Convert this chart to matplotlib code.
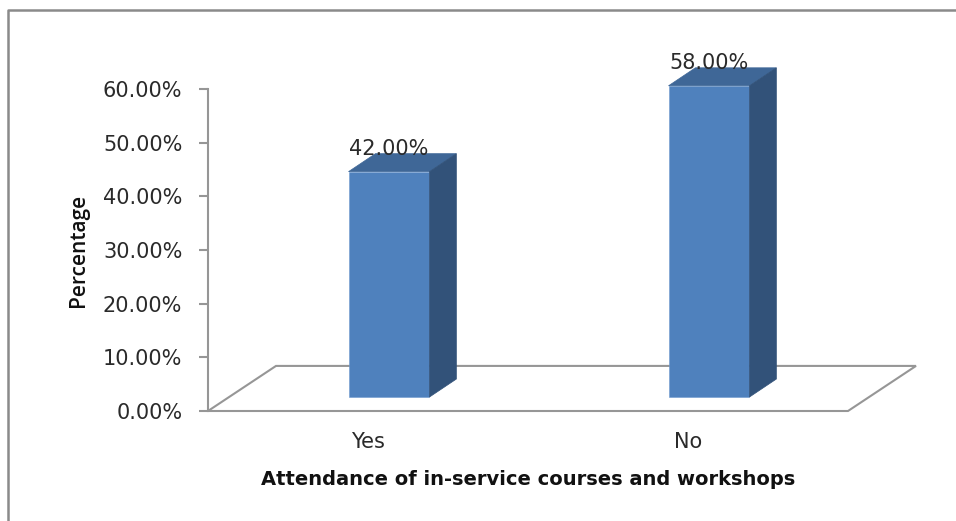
import numpy as np
import matplotlib
matplotlib.use('Agg')
import matplotlib.pyplot as plt
from matplotlib.lines import Line2D
from matplotlib.patches import Polygon

categories = ['Yes', 'No']
values = [42.0, 58.0]
value_labels = ['42.00%', '58.00%']
y_ticks = [0, 10, 20, 30, 40, 50, 60]
y_tick_labels = ['0.00%', '10.00%', '20.00%', '30.00%', '40.00%', '50.00%', '60.00%']
x_title = 'Attendance of in-service courses and workshops'
y_title = 'Percentage'

FRONT = '#4f81bd'
TOP = '#3f6797'
SIDE = '#325279'
GRAY = '#969696'
TEXT = '#2a2a2a'

# pseudo 3d offsets, in data units
floor_dx, floor_dy = 0.2125, 8.4
base_dx, base_dy = 0.0656, 2.6
depth_dx, depth_dy = 0.084, 3.35
bar_width = 0.253

W, H = 956, 521
fig = plt.figure(figsize=(W / 100, H / 100), dpi=100)
ax = fig.add_axes([208 / W, 1 - 411 / H, 640 / W, 322 / H])
ax.set_xlim(0, 2)
ax.set_ylim(0, 60)

for s in ['top', 'right', 'bottom']:
    ax.spines[s].set_visible(False)
ax.spines['left'].set_color(GRAY)
ax.spines['left'].set_linewidth(1.5)

ax.set_yticks(y_ticks)
ax.set_yticklabels(y_tick_labels, fontsize=15, color=TEXT)
ax.tick_params(axis='y', length=6.5, width=1.5, color=GRAY, pad=12)
ax.set_xticks(np.arange(len(categories)) + 0.5)
ax.set_xticklabels(categories, fontsize=15, color=TEXT)
ax.tick_params(axis='x', length=0, pad=15)

ax.set_xlabel(x_title, fontsize=14, fontweight='bold', color='#111111', labelpad=13)
ax.set_ylabel(y_title, fontsize=15, family='Open Sans', fontweight='semibold',
              color='#111111', labelpad=10)

# floor
floor = Polygon([(0, 0), (2, 0), (2 + floor_dx, floor_dy), (floor_dx, floor_dy)],
                closed=True, facecolor='white', edgecolor=GRAY, linewidth=1.5,
                clip_on=False, zorder=1)
ax.add_patch(floor)

for i, v in enumerate(values):
    left = i + 0.5 + base_dx - bar_width / 2
    right = left + bar_width
    base = base_dy
    top = base + v
    ax.bar(left, v, width=bar_width, bottom=base, align='edge', color=FRONT,
           edgecolor='#6f9bd0', linewidth=0.4, clip_on=False, zorder=3)
    ax.add_patch(Polygon([(left, top), (right, top), (right + depth_dx, top + depth_dy),
                          (left + depth_dx, top + depth_dy)], closed=True, facecolor=TOP,
                         edgecolor=TOP, linewidth=0.5, clip_on=False, zorder=3))
    ax.add_patch(Polygon([(right, base), (right + depth_dx, base + depth_dy),
                          (right + depth_dx, top + depth_dy), (right, top)], closed=True,
                         facecolor=SIDE, edgecolor=SIDE, linewidth=0.5, clip_on=False, zorder=3))
    ax.text((left + right) / 2, top + 2.3, value_labels[i], ha='center', va='bottom',
            fontsize=15, color=TEXT, zorder=4, clip_on=False)

# outer frame, runs off the image on the right and bottom
frame_x = [8 / W, 8 / W, 1]
frame_y = [0, 1 - 10 / H, 1 - 10 / H]
fig.add_artist(Line2D(frame_x, frame_y, color='#8a8a8a', linewidth=1.8))

fig.savefig('out.png', dpi=100)
